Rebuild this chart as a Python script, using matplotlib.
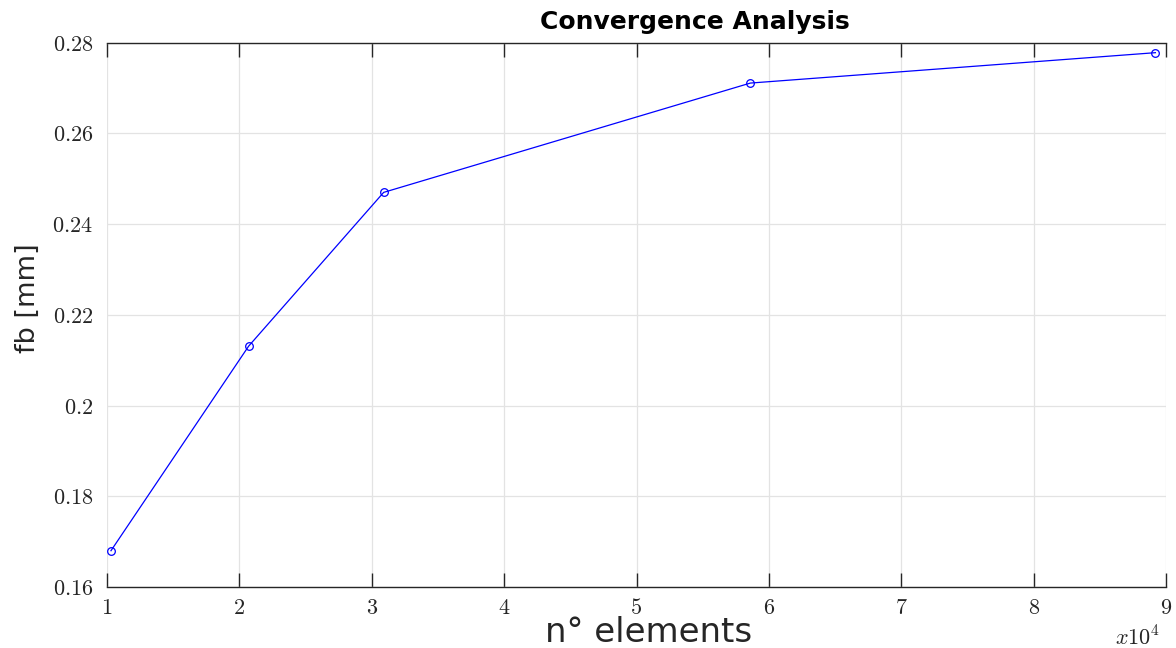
import matplotlib
matplotlib.use("Agg")
import matplotlib.pyplot as plt
from matplotlib.ticker import FixedLocator

plt.rcParams['mathtext.fontset'] = 'cm'

n_elements = [10300, 20700, 30900, 58600, 89200]
fb_mm = [0.1680, 0.2131, 0.2470, 0.2711, 0.2778]
x_ticks = [1, 2, 3, 4, 5, 6, 7, 8, 9]
y_ticks = [0.16, 0.18, 0.20, 0.22, 0.24, 0.26, 0.28]
y_tick_labels = ['0.16', '0.18', '0.2', '0.22', '0.24', '0.26', '0.28']

W, H = 1176, 648
fig = plt.figure(figsize=(W / 100, H / 100), dpi=100)
ax = fig.add_axes([107/W, 1 - 587/H, (1166-107)/W, (587-42.7)/H])

xs = [v / 1e4 for v in n_elements]
ax.plot(xs, fb_mm, color='#0000ff', linewidth=0.9, marker='o', markersize=5.5,
        markerfacecolor='none', markeredgecolor='#0000ff', markeredgewidth=0.9)

ax.set_xlim(1, 9)
ax.set_ylim(0.16, 0.28)
ax.xaxis.set_major_locator(FixedLocator(x_ticks))
ax.set_xticklabels([f'${t}$' for t in x_ticks])
ax.yaxis.set_major_locator(FixedLocator(y_ticks))
ax.set_yticklabels([f'${t}$' for t in y_tick_labels])

ax.grid(True, color='#e3e3e3', linewidth=0.9)
ax.set_axisbelow(True)

for s in ['left', 'right']:
    ax.spines[s].set_visible(False)
for s in ['top', 'bottom']:
    ax.spines[s].set_color('#262626')
    ax.spines[s].set_linewidth(1.0)

ax.tick_params(axis='x', direction='in', length=10, width=1.0, color='#262626',
               top=True, bottom=True, labelsize=16, pad=8, labelcolor='#262626')
ax.tick_params(axis='y', length=0, labelsize=16, pad=10, labelcolor='#262626')

fig.text(649/W, 1 - 633/H, 'n° elements', fontsize=24.5, color='#262626',
         ha='center', va='center', family='DejaVu Sans')
fig.text(28/W, 1 - 298/H, 'fb [mm]', fontsize=19.5, color='#262626',
         ha='center', va='center', rotation=90, family='DejaVu Sans')
fig.text(695/W, 1 - 22/H, 'Convergence Analysis', fontsize=18,
         fontweight='bold', color='black', ha='center', va='center',
         family='DejaVu Sans')

fig.text(1138/W, 1 - 637/H, r'$x10^{4}$', fontsize=16, ha='center',
         va='center', color='#262626')

fig.savefig('out.png', dpi=100)
